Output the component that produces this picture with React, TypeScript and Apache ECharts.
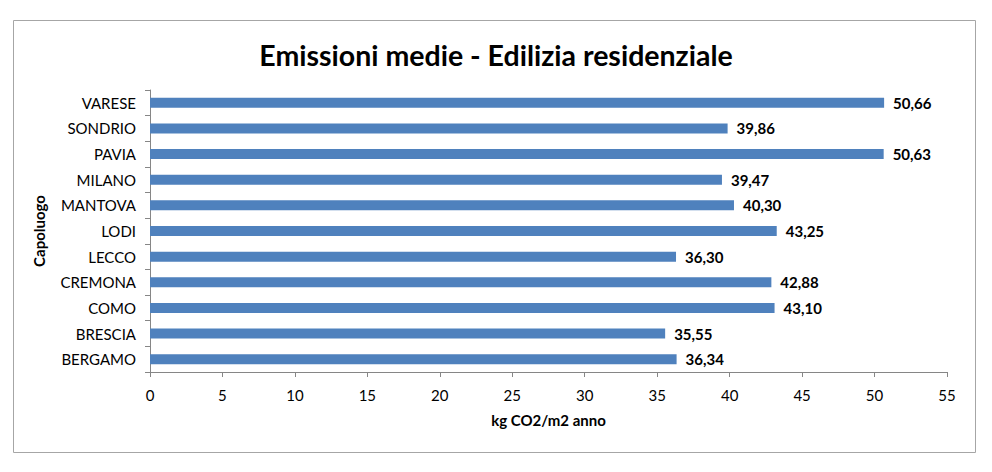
import React, { useEffect, useRef } from "react";
import * as echarts from "echarts";

const categories = ["BERGAMO", "BRESCIA", "COMO", "CREMONA", "LECCO", "LODI", "MANTOVA", "MILANO", "PAVIA", "SONDRIO", "VARESE"];
const values = [36.34, 35.55, 43.1, 42.88, 36.3, 43.25, 40.3, 39.47, 50.63, 39.86, 50.66];
const titleText = "Emissioni medie - Edilizia residenziale";
const xAxisName = "kg CO2/m2 anno";
const yAxisName = "Capoluogo";

const FONT = "Lato, 'Open Sans', sans-serif";

export default function App() {
  const ref = useRef<HTMLDivElement>(null);
  useEffect(() => {
    if (!ref.current) return;
    const chart = echarts.init(ref.current, null, { renderer: "svg" });
    chart.setOption({
      animation: false,
      backgroundColor: "#ffffff",
      textStyle: { fontFamily: FONT },
      title: {
        text: titleText,
        left: "center",
        top: 35,
        textStyle: { fontFamily: FONT, fontSize: 28.5, fontWeight: "bold", color: "#000" },
      },
      graphic: [
        {
          type: "rect",
          shape: { x: 13.5, y: 20.5, width: 962, height: 432 },
          style: { fill: "none", stroke: "#a6a6a6", lineWidth: 1 },
          silent: true,
        },
      ],
      grid: { left: 150, right: 45, top: 90, bottom: 100, containLabel: false },
      xAxis: {
        type: "value",
        min: 0,
        max: 55,
        interval: 5,
        name: xAxisName,
        nameLocation: "middle",
        nameGap: 40,
        nameTextStyle: { fontFamily: FONT, fontSize: 15, fontWeight: "bold", color: "#000" },
        axisLine: { show: true, lineStyle: { color: "#868686" } },
        axisTick: { show: true, length: 5, lineStyle: { color: "#868686" } },
        axisLabel: { fontFamily: FONT, fontSize: 15, color: "#000", margin: 15 },
        splitLine: { show: false },
      },
      yAxis: {
        type: "category",
        data: categories,
        name: yAxisName,
        nameLocation: "middle",
        nameGap: 104,
        nameRotate: 90,
        nameTextStyle: { fontFamily: FONT, fontSize: 15, fontWeight: "bold", color: "#000" },
        axisLine: { show: true, lineStyle: { color: "#868686" } },
        axisTick: { show: true, length: 5, lineStyle: { color: "#868686" } },
        axisLabel: { fontFamily: FONT, fontSize: 15, color: "#000", margin: 14 },
      },
      series: [
        {
          type: "bar",
          data: values,
          barWidth: 10,
          itemStyle: { color: "#4F81BD" },
          label: {
            show: true,
            position: "right",
            distance: 9,
            fontFamily: FONT,
            fontSize: 15,
            fontWeight: "bold",
            color: "#000",
            formatter: (p: any) => Number(p.value).toFixed(2).replace(".", ","),
          },
        },
      ],
    });
    return () => chart.dispose();
  }, []);
  return <div ref={ref} style={{ position: "fixed", left: 0, top: 0, width: 992, height: 472 }} />;
}
